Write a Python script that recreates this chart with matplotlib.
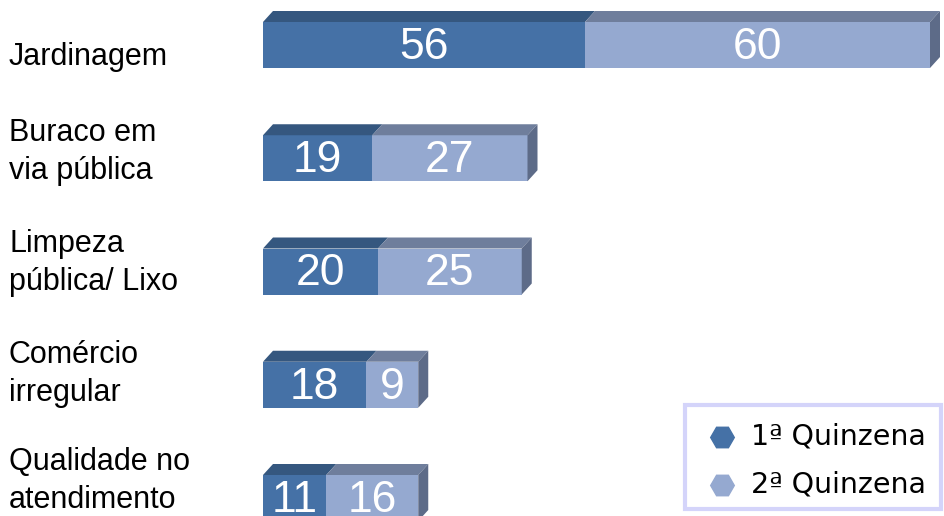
import matplotlib.pyplot as plt
from matplotlib.patches import Polygon, Rectangle
from matplotlib.lines import Line2D

# Data
categories = ["Jardinagem", "Buraco em\nvia pública", "Limpeza\npública/ Lixo",
              "Comércio\nirregular", "Qualidade no\natendimento"]
quinzena1 = [56, 19, 20, 18, 11]
quinzena2 = [60, 27, 25, 9, 16]
series_names = ["1ª Quinzena", "2ª Quinzena"]

# Colours (front, top)
dark_front, dark_top = "#4571a6", "#35577f"
light_front, light_top = "#95a9d0", "#6f7e9c"
side_col = "#5d6b88"

W, H = 945, 516
fig = plt.figure(figsize=(W / 100, H / 100), dpi=100)
plt.rcParams['font.family'] = ['Liberation Sans', 'DejaVu Sans']

# axes: x from pixel 263 to right edge, 5.75 px per unit
px_unit = 5.75
row_px = 113.25
ax = fig.add_axes([263 / W, 0, (W - 263) / W, 1])
ax.set_xlim(0, (W - 263) / px_unit)
ax.set_ylim((H - 45) / row_px, -45 / row_px)
ax.axis("off")

bar_h = 46 / row_px
dx = 10 / px_unit
dy = 11 / row_px

for i, (a, b) in enumerate(zip(quinzena1, quinzena2)):
    ax.barh(i, a, height=bar_h, color=dark_front, zorder=2)
    ax.barh(i, b, left=a, height=bar_h, color=light_front, zorder=2)
    top = i - bar_h / 2
    bot = i + bar_h / 2
    # top faces
    ax.add_patch(Polygon([(0, top), (dx, top - dy), (a + dx, top - dy), (a, top)],
                         closed=True, facecolor=dark_top, edgecolor="none", zorder=2))
    ax.add_patch(Polygon([(a, top), (a + dx, top - dy), (a + b + dx, top - dy), (a + b, top)],
                         closed=True, facecolor=light_top, edgecolor="none", zorder=2))
    # right side face
    ax.add_patch(Polygon([(a + b, top), (a + b + dx, top - dy), (a + b + dx, bot - dy), (a + b, bot)],
                         closed=True, facecolor=side_col, edgecolor="none", zorder=2))
    ax.text(a / 2, i + 0.02, str(a), color="white", fontsize=32,
            ha="center", va="center", zorder=3)
    ax.text(a + b / 2, i + 0.02, str(b), color="white", fontsize=32,
            ha="center", va="center", zorder=3)

# category labels on the left
label_y = [57, 152, 263, 374, 481]
for lab, yp in zip(categories, label_y):
    fig.text(9 / W, 1 - yp / H, lab, fontsize=22, ha="left", va="center",
             linespacing=1.35)

# legend drawn by hand
fig.patches.append(Rectangle((685 / W, 1 - 509 / H), 256 / W, 104 / H,
                             transform=fig.transFigure, facecolor="white",
                             edgecolor="#d4d4fa", linewidth=3))
for name, col, yp in zip(series_names, [dark_front, light_front], [437, 485]):
    fig.lines.append(Line2D([722 / W], [1 - yp / H], marker="H", markersize=17,
                            color=col, linestyle="none", transform=fig.transFigure))
    fig.text(751 / W, 1 - yp / H, name, fontsize=20.5, ha="left", va="center",
             family=["DejaVu Sans"])

fig.savefig("out.png", dpi=100)
